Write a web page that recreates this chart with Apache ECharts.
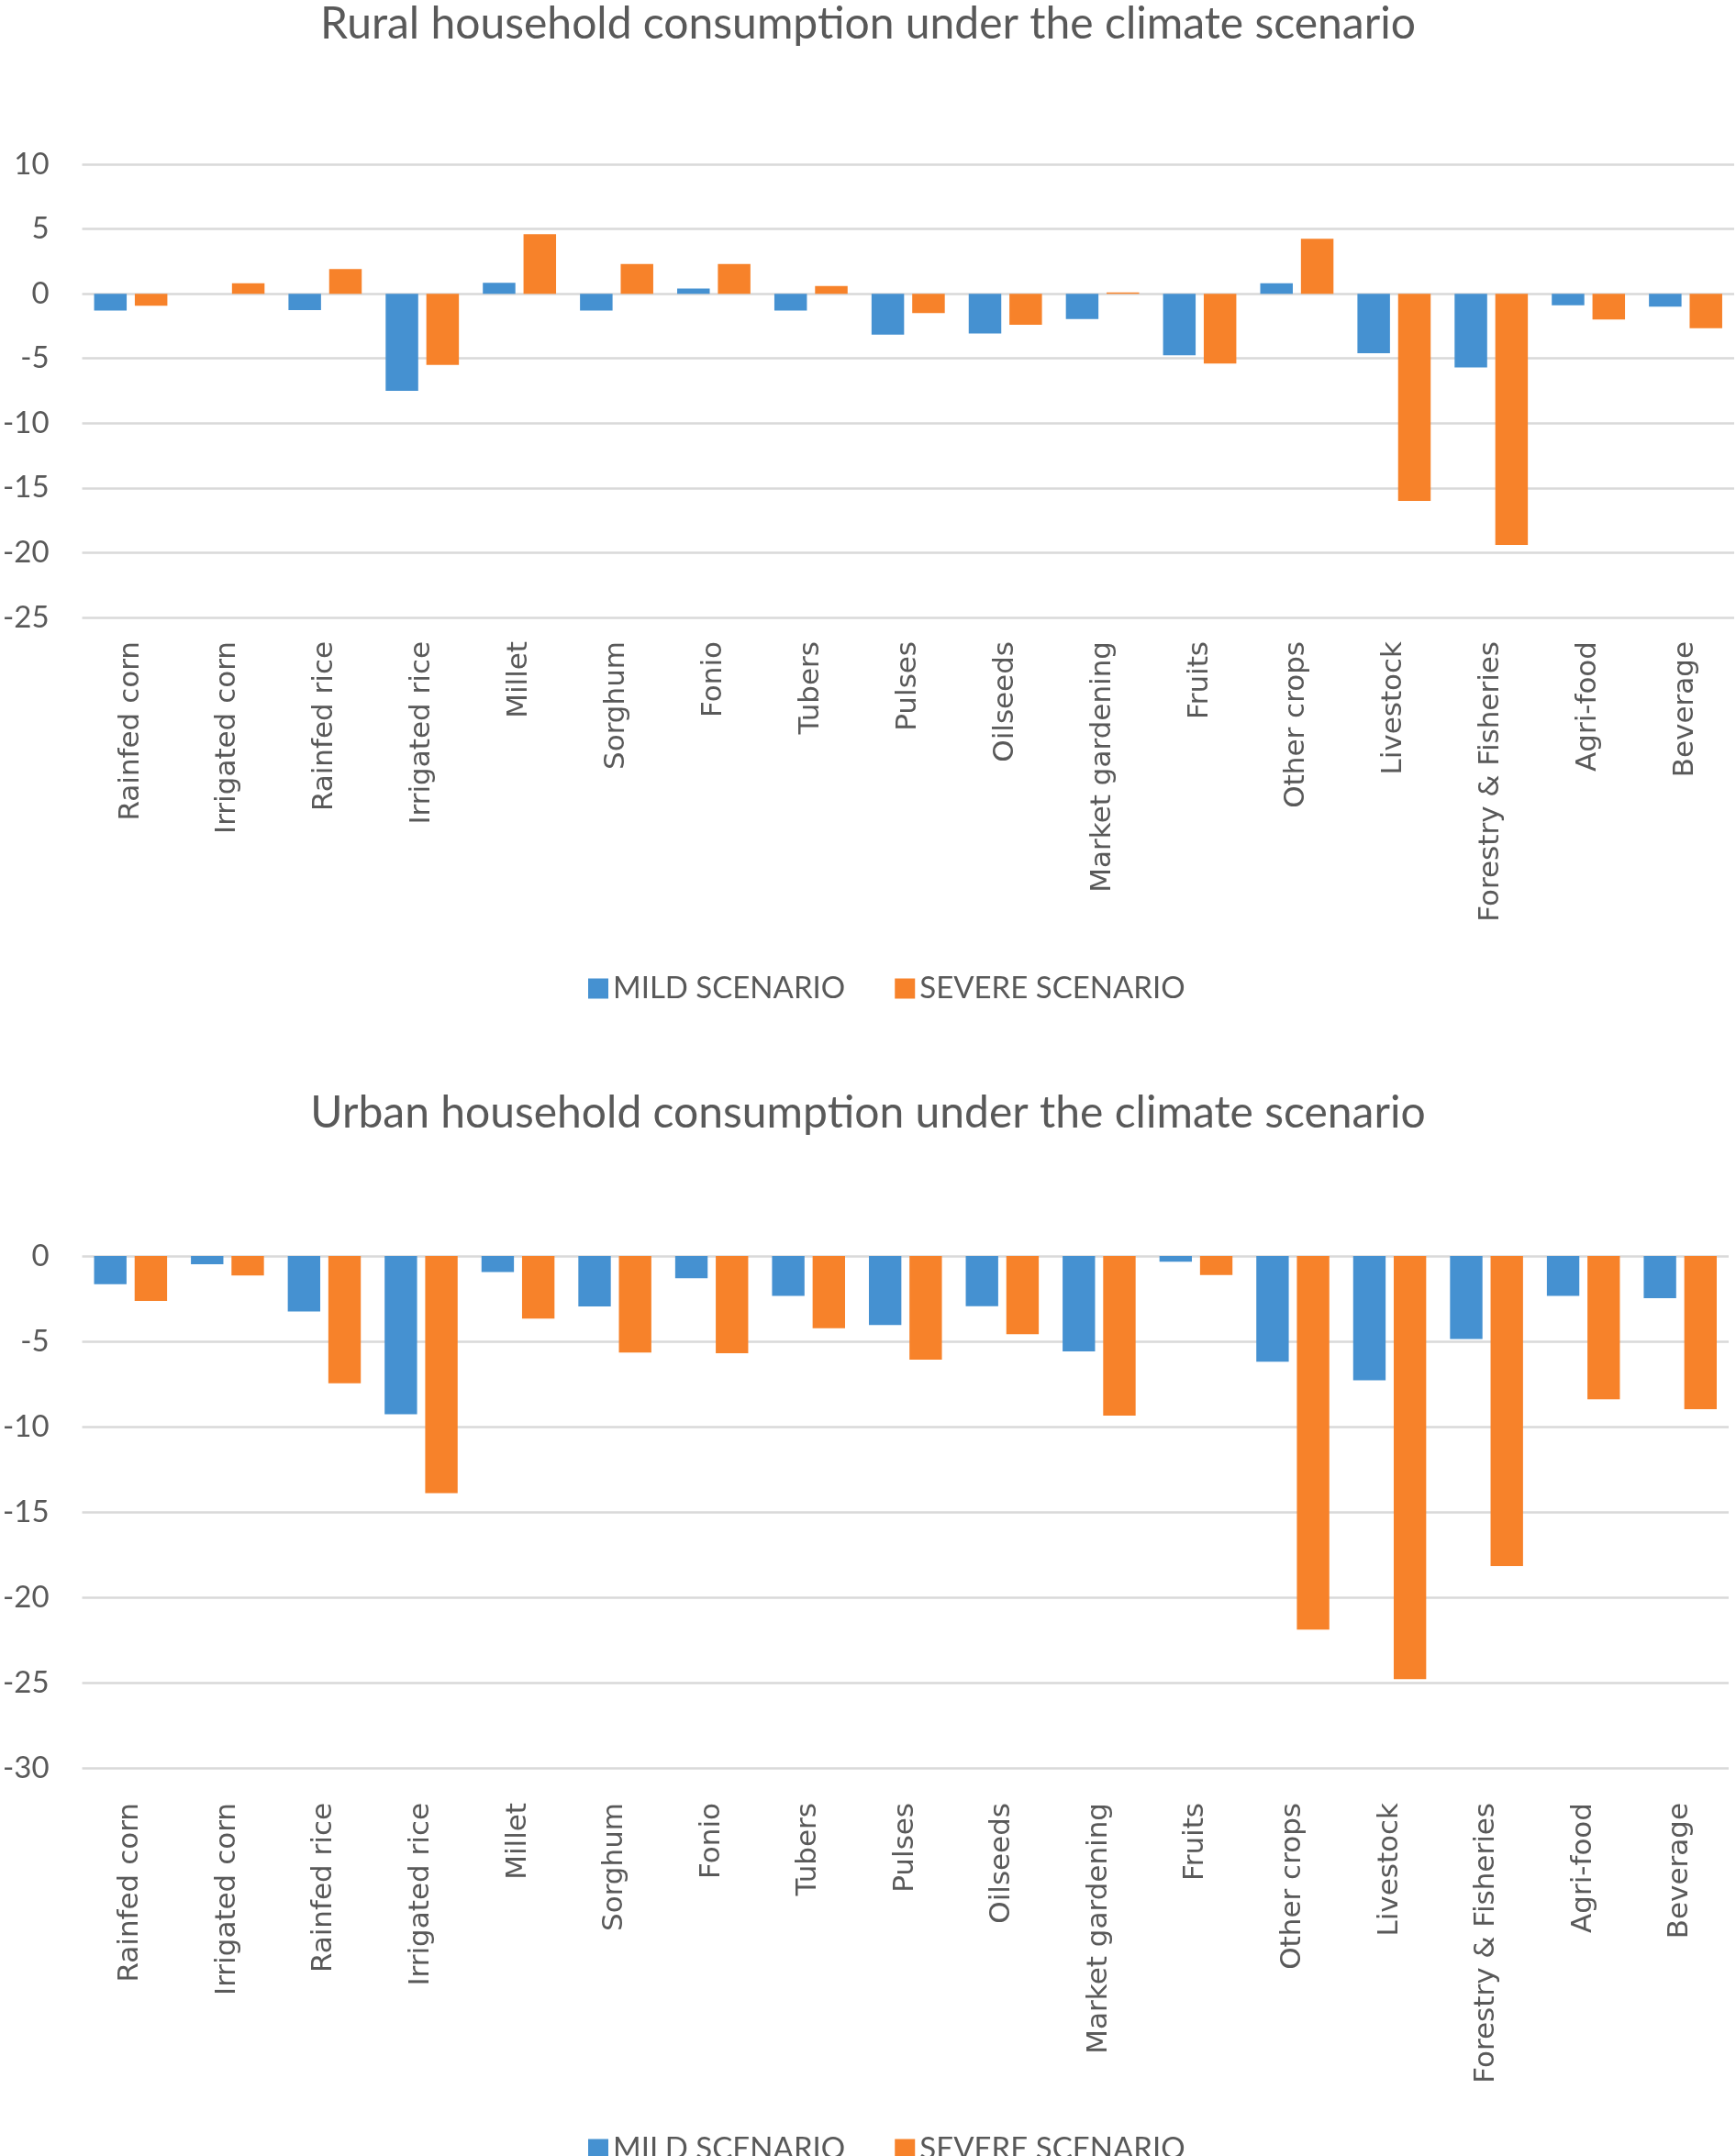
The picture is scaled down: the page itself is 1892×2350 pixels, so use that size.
<!DOCTYPE html>
<html>
<head>
<meta charset="utf-8">
<script src="https://cdn.jsdelivr.net/npm/echarts@6/dist/echarts.min.js"></script>
<style>
  html, body { margin: 0; padding: 0; background: #fff; }
  #main { width: 1892px; height: 2350px; }
</style>
</head>
<body>
<div id="main"></div>
<script>
// categories (same for both charts)
var categories = ['Rainfed corn', 'Irrigated corn', 'Rainfed rice', 'Irrigated rice', 'Millet', 'Sorghum',
    'Fonio', 'Tubers', 'Pulses', 'Oilseeds', 'Market gardening', 'Fruits', 'Other crops', 'Livestock',
    'Forestry & Fisheries', 'Agri-food', 'Beverage'];
var seriesNames = ['MILD SCENARIO', 'SEVERE SCENARIO'];
// rural household consumption (%)
var ruralMild = [-1.3, 0, -1.27, -7.5, 0.85, -1.3, 0.4, -1.3, -3.16, -3.07, -1.96, -4.75, 0.8, -4.6, -5.7, -0.9, -1.0];
var ruralSevere = [-0.92, 0.8, 1.9, -5.5, 4.6, 2.3, 2.3, 0.6, -1.5, -2.4, 0.1, -5.4, 4.25, -16.0, -19.4, -2.0, -2.66];
// urban household consumption (%)
var urbanMild = [-1.65, -0.49, -3.25, -9.27, -0.94, -2.96, -1.31, -2.34, -4.05, -2.94, -5.59, -0.33, -6.19, -7.28, -4.86, -2.34, -2.47];
var urbanSevere = [-2.63, -1.14, -7.46, -13.9, -3.67, -5.66, -5.7, -4.23, -6.08, -4.59, -9.35, -1.11, -21.9, -24.8, -18.17, -8.4, -8.98];
// axis ranges
var ruralAxis = {min: -25, max: 10, interval: 5};
var urbanAxis = {min: -30, max: 0, interval: 5};

var textColor = '#595959';
var colors = ['#4591d1', '#f7822a'];

function xAxisFor(gridIndex, margin) {
    return {
        type: 'category',
        gridIndex: gridIndex,
        data: categories,
        position: 'bottom',
        axisLine: {show: false, onZero: false},
        axisTick: {show: false},
        axisLabel: {
            rotate: 90,
            interval: 0,
            margin: margin,
            color: textColor,
            fontFamily: 'DejaVu Sans',
            fontSize: 31
        }
    };
}
function yAxisFor(gridIndex, range) {
    return {
        type: 'value',
        gridIndex: gridIndex,
        min: range.min,
        max: range.max,
        interval: range.interval,
        axisLine: {show: false},
        axisTick: {show: false},
        axisLabel: {margin: 36, color: textColor, fontFamily: 'Lato', fontSize: 33},
        splitLine: {lineStyle: {color: '#d9d9d9', width: 2.5}}
    };
}
function barSeries(name, idx, data, colorIdx) {
    return {
        name: name,
        type: 'bar',
        xAxisIndex: idx,
        yAxisIndex: idx,
        data: data,
        barWidth: '33.5%',
        barGap: '25%',
        itemStyle: {color: colors[colorIdx]}
    };
}
function legendAt(top) {
    return {
        data: seriesNames,
        left: 636,
        top: top,
        icon: 'rect',
        itemWidth: 22,
        itemHeight: 22,
        itemGap: 54,
        textStyle: {color: textColor, fontFamily: 'Lato', fontSize: 33}
    };
}

var chart = echarts.init(document.getElementById('main'));
var option = {
    animation: false,
    backgroundColor: '#ffffff',
    color: colors,
    title: [{
        text: 'Rural household consumption under the climate scenario',
        left: 'center',
        top: -2,
        textStyle: {color: textColor, fontFamily: 'Lato', fontSize: 48, fontWeight: 'normal'}
    }, {
        text: 'Urban household consumption under the climate scenario',
        left: 'center',
        top: 1185,
        textStyle: {color: textColor, fontFamily: 'Lato', fontSize: 48, fontWeight: 'normal'}
    }],
    legend: [legendAt(1056), legendAt(2321)],
    grid: [
        {left: 85, right: 2, top: 179, height: 494},
        {left: 87, right: 8, top: 1369, height: 558}
    ],
    xAxis: [xAxisFor(0, 26), xAxisFor(1, 38)],
    yAxis: [yAxisFor(0, ruralAxis), yAxisFor(1, urbanAxis)],
    series: [
        barSeries(seriesNames[0], 0, ruralMild, 0),
        barSeries(seriesNames[1], 0, ruralSevere, 1),
        barSeries(seriesNames[0], 1, urbanMild, 0),
        barSeries(seriesNames[1], 1, urbanSevere, 1)
    ]
};
chart.setOption(option);
</script>
</body>
</html>
